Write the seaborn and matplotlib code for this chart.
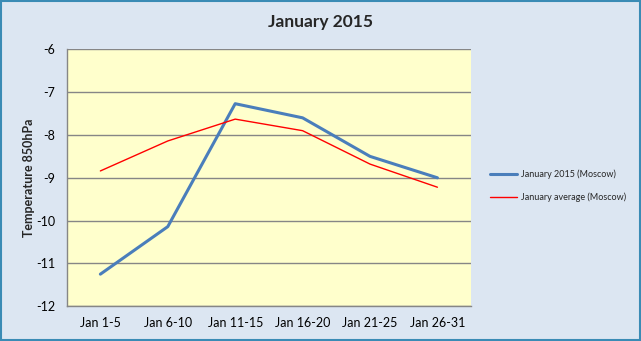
import matplotlib
matplotlib.use("Agg")
import matplotlib.pyplot as plt
import seaborn as sns
import pandas as pd
from matplotlib.patches import Rectangle
from matplotlib.lines import Line2D

categories = ["Jan 1-5", "Jan 6-10", "Jan 11-15", "Jan 16-20", "Jan 21-25", "Jan 26-31"]
jan2015 = [-11.25, -10.14, -7.27, -7.6, -8.5, -9.0]
jan_avg = [-8.84, -8.14, -7.63, -7.9, -8.68, -9.22]
yticks = [-12, -11, -10, -9, -8, -7, -6]

sns.set_theme(style="white")
plt.rcParams['font.family'] = ['Lato', 'DejaVu Sans']

df = pd.DataFrame({
    "period": categories * 2,
    "temp": jan2015 + jan_avg,
    "series": ["January 2015 (Moscow)"] * 6 + ["January average (Moscow)"] * 6,
})

fig = plt.figure(figsize=(6.41, 3.41), dpi=100)
fig.patch.set_facecolor("#dce6f2")
ax = fig.add_axes([0.104, 0.1018, 0.631, 0.7536])
ax.set_facecolor("#ffffcc")

sns.lineplot(data=df, x="period", y="temp", hue="series", sort=False,
             palette={"January 2015 (Moscow)": "#4a7ebb", "January average (Moscow)": "#ff0000"},
             size="series", sizes={"January 2015 (Moscow)": 2.2, "January average (Moscow)": 1.0},
             ax=ax, legend=False)

ax.set_xlim(-0.5, 5.5)
ax.set_ylim(-12, -6)
ax.set_yticks(yticks)
ax.set_yticklabels([str(t) for t in yticks])
ax.yaxis.grid(True, color="#868686", linewidth=1)
ax.set_axisbelow(True)
for s in ["left", "bottom"]:
    ax.spines[s].set_color("#868686")
    ax.spines[s].set_linewidth(1)
for s in ["top", "right"]:
    ax.spines[s].set_visible(False)
ax.tick_params(axis="both", length=0, labelsize=9, colors="black", pad=8)
ax.set_xlabel("")
ax.set_ylabel("Temperature 850hPa", fontsize=9, fontweight="bold", labelpad=1)

fig.text(0.5, 0.935, "January 2015", ha="center", va="center", fontsize=12.5, fontweight="bold")

handles = [Line2D([], [], color="#4a7ebb", lw=2.2), Line2D([], [], color="#ff0000", lw=1.0)]
fig.legend(handles, ["January 2015 (Moscow)", "January average (Moscow)"],
           loc="center left", bbox_to_anchor=(0.765, 0.455), frameon=False,
           fontsize=6.5, handlelength=3.0, handletextpad=0.35, labelspacing=1.5,
           borderaxespad=0, borderpad=0)

fig.add_artist(Rectangle((0.001, 0.002), 0.997, 0.995, transform=fig.transFigure,
                         fill=False, edgecolor="#3a8bb5", linewidth=1.5))

fig.savefig("out.png", dpi=100, facecolor=fig.get_facecolor())
